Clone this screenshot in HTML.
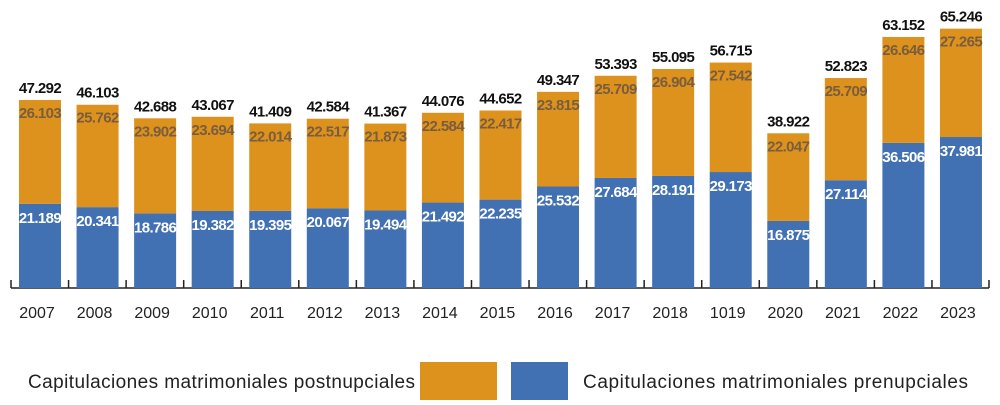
<!DOCTYPE html>
<html><head><meta charset="utf-8"><style>
body{margin:0;background:#fff;width:1000px;height:400px;overflow:hidden;font-family:"Liberation Sans Narrow","Liberation Sans",sans-serif}
</style></head><body>
<svg width="1000" height="400" xmlns="http://www.w3.org/2000/svg" id="s"></svg>
<script>
const d=[["2007",21189,26103,"47.292","21.189","26.103"],["2008",20341,25762,"46.103","20.341","25.762"],["2009",18786,23902,"42.688","18.786","23.902"],["2010",19382,23694,"43.067","19.382","23.694"],["2011",19395,22014,"41.409","19.395","22.014"],["2012",20067,22517,"42.584","20.067","22.517"],["2013",19494,21873,"41.367","19.494","21.873"],["2014",21492,22584,"44.076","21.492","22.584"],["2015",22235,22417,"44.652","22.235","22.417"],["2016",25532,23815,"49.347","25.532","23.815"],["2017",27684,25709,"53.393","27.684","25.709"],["2018",28191,26904,"55.095","28.191","26.904"],["1019",29173,27542,"56.715","29.173","27.542"],["2020",16875,22047,"38.922","16.875","22.047"],["2021",27114,25709,"52.823","27.114","25.709"],["2022",36506,26646,"63.152","36.506","26.646"],["2023",37981,27265,"65.246","37.981","27.265"]];
const B=288,k=0.003975,sp=57.56,w=42;let h='';
h+=`<line x1="11" y1="${B}" x2="989" y2="${B}" stroke="#222" stroke-width="1.5"/>`;
for(let i=0;i<=17;i++){let x=11+i*sp;if(i==17)x=989;h+=`<line x1="${x}" y1="280" x2="${x}" y2="${B}" stroke="#222" stroke-width="1.5"/>`;}
d.forEach((r,i)=>{const x=19+i*sp,c=x+w/2,bt=B-r[1]*k,tt=bt-r[2]*k;
h+=`<rect x="${x}" y="${bt}" width="${w}" height="${B-bt}" fill="#4170b3"/>`;
h+=`<rect x="${x}" y="${tt}" width="${w}" height="${bt-tt}" fill="#dc921c"/>`;
h+=`<text x="${c}" y="${tt-7}" text-anchor="middle" font-size="15" font-weight="bold" fill="#111" letter-spacing="-0.6">${r[3]}</text>`;
h+=`<text x="${c}" y="${tt+18}" text-anchor="middle" font-size="15" font-weight="bold" fill="#7a5d3e" letter-spacing="-0.6">${r[5]}</text>`;
h+=`<text x="${c}" y="${bt+19}" text-anchor="middle" font-size="15" font-weight="bold" fill="#fff" letter-spacing="-0.6">${r[4]}</text>`;
h+=`<text x="${c-3}" y="318" text-anchor="middle" font-size="16" fill="#222" font-family="Liberation Sans,sans-serif">${r[0]}</text>`;});
h+=`<rect x="420" y="362" width="77" height="38" fill="#dc921c"/><rect x="511" y="362" width="57" height="38" fill="#4170b3"/>`;
h+=`<text x="28" y="388" font-size="19" fill="#222" font-family="Liberation Sans,sans-serif" textLength="387">Capitulaciones matrimoniales postnupciales</text>`;
h+=`<text x="583" y="388" font-size="19" fill="#222" font-family="Liberation Sans,sans-serif" textLength="385">Capitulaciones matrimoniales prenupciales</text>`;
document.getElementById('s').innerHTML=h;
</script>
</body></html>
